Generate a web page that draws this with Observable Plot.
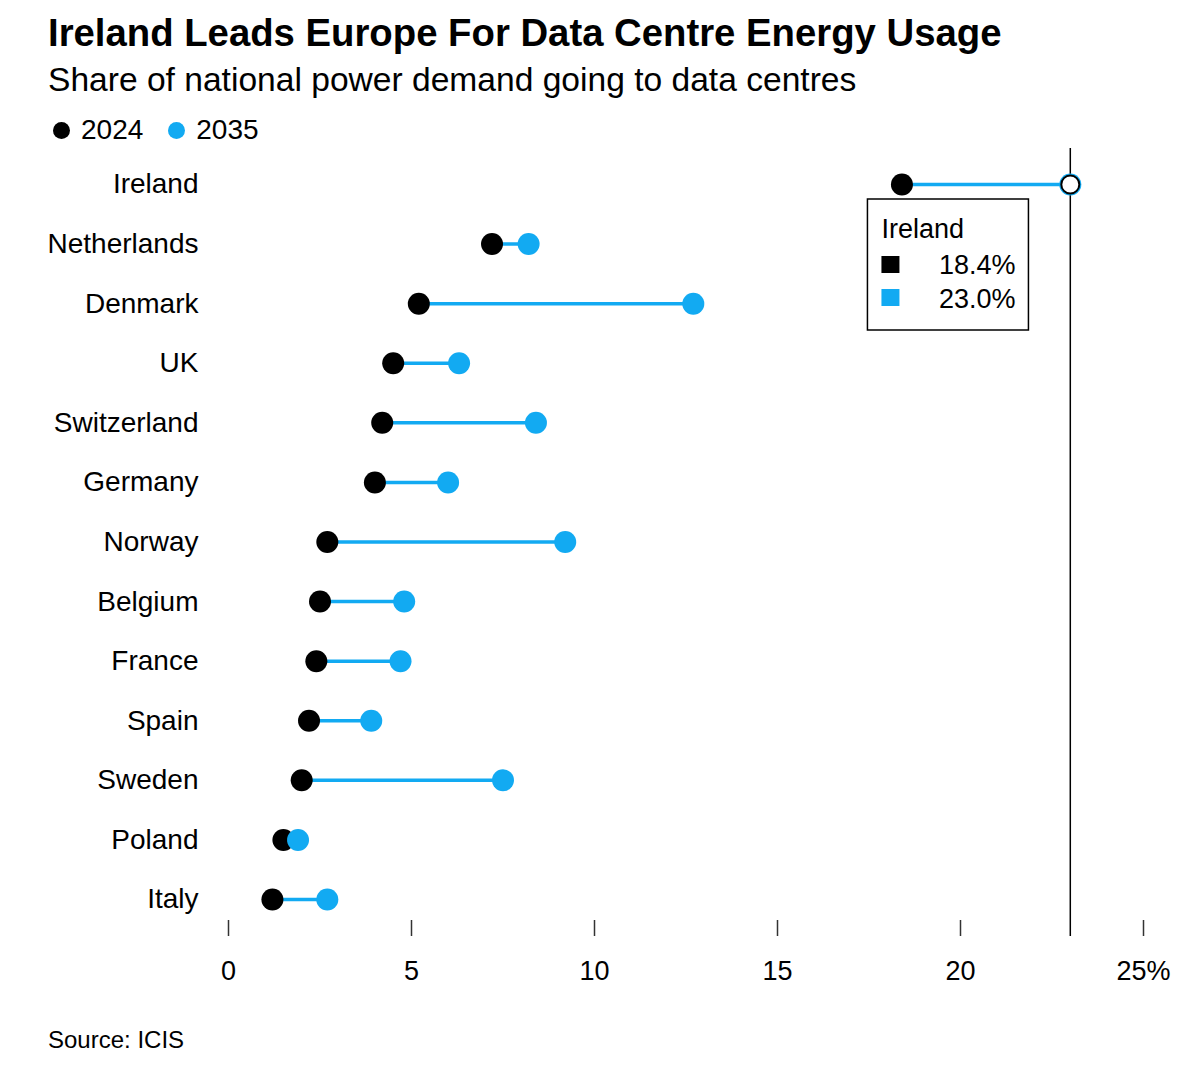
<!DOCTYPE html>
<html><head><meta charset="utf-8">
<script src="https://cdn.jsdelivr.net/npm/d3@7"></script>
<script src="https://cdn.jsdelivr.net/npm/@observablehq/plot@0.6"></script>
<style>
body{margin:0;background:#fff;font-family:"Liberation Sans",Arial,sans-serif;color:#000;width:1200px}
#title{margin:14px 0 0 48px;height:38px;line-height:38px;font-size:38.3px;font-weight:bold;white-space:nowrap}
#subtitle{margin:10px 0 0 48px;height:36px;line-height:36px;font-size:33.6px;white-space:nowrap}
#legend{margin:17px 0 0 53px;height:30px;line-height:30px;font-size:28px;display:flex;align-items:center}
.sw{display:inline-block;width:17px;height:17px;border-radius:50%;margin-right:11px}
.item{display:inline-flex;align-items:center;margin-right:25px}
#chart svg{display:block}
#source{margin:22px 0 0 48px;height:26px;line-height:26px;font-size:24px}
</style></head>
<body>
<div id="title">Ireland Leads Europe For Data Centre Energy Usage</div>
<div id="subtitle">Share of national power demand going to data centres</div>
<div id="legend"></div>
<div id="chart"></div>
<div id="source">Source: ICIS</div>
<script>
const countries = ["Ireland","Netherlands","Denmark","UK","Switzerland","Germany","Norway","Belgium","France","Spain","Sweden","Poland","Italy"];
const v2024 = [18.4,7.2,5.2,4.5,4.2,4.0,2.7,2.5,2.4,2.2,2.0,1.5,1.2];
const v2035 = [23.0,8.2,12.7,6.3,8.4,6.0,9.2,4.8,4.7,3.9,7.5,1.9,2.7];
const seriesNames = ["2024","2035"];
const seriesColors = ["#000000","#12aaf2"];
const xTicks = [0,5,10,15,20,25];
const highlight = "Ireland";

const data = countries.map((c,i)=>({country:c, v2024:v2024[i], v2035:v2035[i]}));
const hi = data.find(d=>d.country===highlight);

// legend
const leg = document.getElementById("legend");
seriesNames.forEach((s,i)=>{
  const it = document.createElement("span"); it.className="item";
  const sw = document.createElement("span"); sw.className="sw"; sw.style.background=seriesColors[i];
  it.appendChild(sw); it.appendChild(document.createTextNode(s)); leg.appendChild(it);
});

function tooltip(index, scales) {
  const x0 = scales.x(hi.v2024) - 34, y0 = scales.y(hi.country) + 15;
  const g = d3.create("svg:g").attr("transform",`translate(${x0},${y0})`)
    .attr("font-family","Liberation Sans, Arial, sans-serif").attr("font-size",27).attr("fill","#000")
    .attr("text-anchor","start");
  g.append("rect").attr("width",161).attr("height",131).attr("fill","#fff").attr("stroke","#000").attr("stroke-width",1.5);
  g.append("text").attr("x",14).attr("y",39).attr("text-anchor","start").text(hi.country);
  const vals = [hi.v2024, hi.v2035];
  vals.forEach((v,i)=>{
    g.append("rect").attr("x",14).attr("y",57+i*33).attr("width",18).attr("height",17).attr("fill",seriesColors[i]);
    g.append("text").attr("x",148).attr("y",75+i*34).attr("text-anchor","end").text(v.toFixed(1)+"%");
  });
  return g.node();
}

const chart = Plot.plot({
  width:1200, height:860,
  marginLeft:228, marginRight:57, marginTop:3, marginBottom:85,
  style:{fontFamily:"Liberation Sans, Arial, sans-serif", fontSize:"27px", color:"#000", background:"#fff"},
  x:{domain:[0,25]},
  y:{type:"point", domain:countries, range:[39,754], padding:0, round:false},
  marks:[
    Plot.axisX({ticks:xTicks, tickSize:16, tickPadding:24, stroke:"#333", strokeWidth:1.5, tickFormat:d=>d===25?"25%":String(d), label:null}),
    Plot.axisY({tickSize:0, tickPadding:30, fontSize:28, label:null}),
    Plot.ruleX([hi.v2035], {stroke:"#000", strokeWidth:1.5, insetBottom:-16}),
    Plot.link(data, {x1:"v2024", x2:"v2035", y1:"country", y2:"country", stroke:seriesColors[1], strokeWidth:3.5}),
    Plot.dot(data, {x:"v2024", y:"country", r:11, fill:seriesColors[0]}),
    Plot.dot(data, {x:"v2035", y:"country", r:11, fill:seriesColors[1]}),
    Plot.dot([hi], {x:"v2035", y:"country", r:9, fill:"#fff", stroke:"#000", strokeWidth:2}),
    tooltip
  ]
});
document.getElementById("chart").appendChild(chart);
</script>
</body></html>
